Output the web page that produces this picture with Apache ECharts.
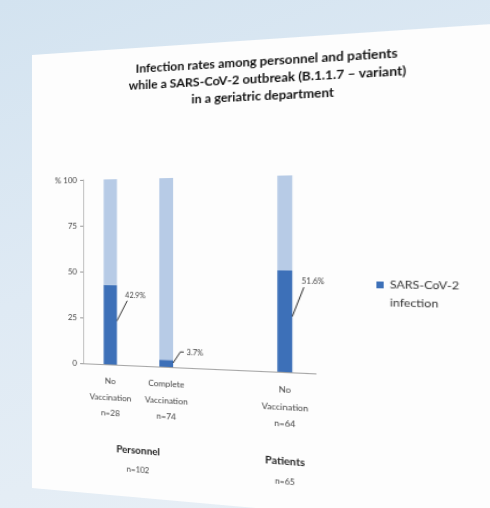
<!DOCTYPE html>
<html>
<head>
<meta charset="utf-8">
<script src="https://cdn.jsdelivr.net/npm/echarts@6/dist/echarts.min.js"></script>
<style>
  html, body {
    margin: 0;
    padding: 0;
    width: 490px;
    height: 508px;
    overflow: hidden;
    background: linear-gradient(160deg, #d3e3f0 0%, #dfeaf4 45%, #e9f0f6 100%);
  }
  #slide {
    position: absolute;
    left: 32px;
    top: 55px;
    width: 460px;
    height: 433px;
    background: #fdfdfd;
    transform-origin: 0 186px;
    transform: perspective(740px) rotateY(-15deg);
    filter: blur(0.3px);
  }
</style>
</head>
<body>
<div id="slide"></div>
<script>
// chart data
var categories = ['No\nVaccination\nn=28', 'Complete\nVaccination\nn=74', '', 'No\nVaccination\nn=64'];
var infected = [42.9, 3.7, null, 51.6];
var notInfected = [57.1, 96.3, null, 48.4];
var groupNames = ['Personnel', 'Patients'];
var groupCounts = ['n=102', 'n=65'];
var groupCats = [[0, 1], [3]];
var legendName = 'SARS-CoV-2\ninfection';
var titleLines = [
  'Infection rates among personnel and patients',
  'while a SARS-CoV-2 outbreak (B.1.1.7 \u2013 variant)',
  'in a geriatric department'
];

var FONT = 'Lato, "Open Sans", sans-serif';
var BAR_W = 13;

var chart = echarts.init(document.getElementById('slide'));

// leader line + percentage label next to each infected segment
function renderLeader(params, api) {
  var top = api.coord([api.value(0), api.value(1)]);
  var base = api.coord([api.value(0), 0]);
  var h = base[1] - top[1];
  var half = BAR_W / 2;
  var pts, lx, ly;
  if (h > 40) {
    var sx = top[0] + half, sy = top[1] + 0.45 * h;
    var ex = top[0] + 16.5, ey = top[1] + 15;
    pts = [[sx, sy], [ex, ey]];
    lx = ex - 2; ly = ey - 5;
  } else {
    var sx2 = top[0] + half, sy2 = base[1] - 4;
    pts = [[sx2, sy2], [sx2 + 6.8, sy2 - 10.7], [sx2 + 10, sy2 - 10.7]];
    lx = sx2 + 12.5; ly = sy2 - 10.7;
  }
  return {
    type: 'group',
    children: [{
      type: 'polyline',
      shape: { points: pts },
      style: { stroke: '#333', lineWidth: 1, fill: null }
    }, {
      type: 'text',
      x: lx, y: ly,
      style: {
        text: api.value(1).toFixed(1) + '%',
        fill: '#444', font: '7px ' + FONT,
        align: 'left', verticalAlign: 'middle'
      }
    }]
  };
}

var leaderData = [];
infected.forEach(function (v, i) { if (v != null) leaderData.push([i, v]); });

chart.setOption({
  animation: false,
  textStyle: { fontFamily: FONT },
  grid: { left: 52, right: 193.4, top: 126, bottom: 127, containLabel: false },
  legend: {
    data: [legendName],
    left: 317,
    top: 201,
    padding: 0,
    itemWidth: 6,
    itemHeight: 6,
    icon: 'rect',
    // empty first line keeps the icon level with "SARS-CoV-2"
    formatter: function (name) { return '\u00a0\n' + name; },
    textStyle: { fontSize: 10, lineHeight: 16, color: '#333' }
  },
  xAxis: {
    type: 'category',
    data: categories,
    axisLine: { lineStyle: { color: '#a6a6a6', width: 1 } },
    axisTick: { show: false },
    axisLabel: { interval: 0, fontSize: 8, lineHeight: 15.5, margin: 9, color: '#444' }
  },
  yAxis: {
    type: 'value',
    min: 0, max: 100, interval: 25,
    splitLine: { show: false },
    axisLine: { show: true, lineStyle: { color: '#bfbfbf' } },
    axisTick: { show: true, length: 3, lineStyle: { color: '#999' } },
    axisLabel: {
      fontSize: 8, margin: 6, color: '#444',
      formatter: function (v) { return v === 100 ? '% 100' : String(v); }
    }
  },
  series: [{
    name: legendName,
    type: 'bar',
    stack: 'rate',
    barWidth: BAR_W,
    data: infected,
    itemStyle: { color: '#3d70b8' }
  }, {
    name: 'not infected',
    type: 'bar',
    stack: 'rate',
    barWidth: BAR_W,
    data: notInfected,
    itemStyle: { color: '#b7cbe6' }
  }, {
    type: 'custom',
    renderItem: renderLeader,
    data: leaderData,
    z: 5
  }]
});

// title and group labels under the category axis
var graphics = [{
  type: 'text',
  x: 219, y: 36,
  style: {
    text: titleLines.join('\n'),
    font: 'bold 11.5px ' + FONT,
    lineHeight: 16,
    fill: '#111',
    align: 'center', verticalAlign: 'middle'
  }
}];
groupNames.forEach(function (name, g) {
  var xs = groupCats[g].map(function (c) { return chart.convertToPixel({ xAxisIndex: 0 }, c); });
  var cx = xs.reduce(function (a, b) { return a + b; }, 0) / xs.length;
  graphics.push({
    type: 'text', x: cx, y: 388,
    style: { text: name, font: 'bold 9.5px ' + FONT, fill: '#222', align: 'center', verticalAlign: 'middle' }
  });
  graphics.push({
    type: 'text', x: cx, y: 407,
    style: { text: groupCounts[g], font: '7.5px ' + FONT, fill: '#444', align: 'center', verticalAlign: 'middle' }
  });
});
chart.setOption({ graphic: graphics });
</script>
</body>
</html>
